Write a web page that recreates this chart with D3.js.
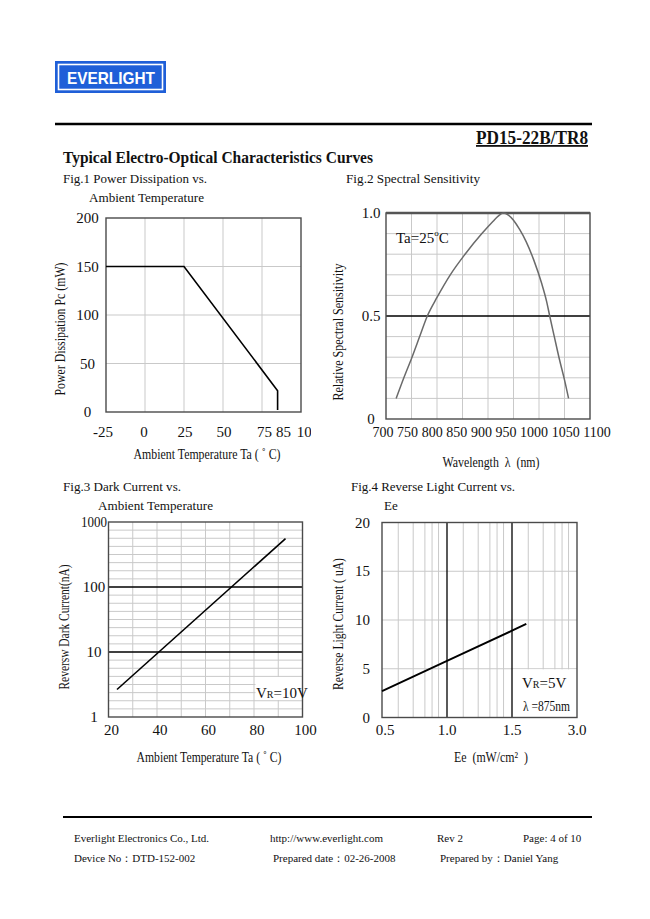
<!DOCTYPE html>
<html><head><meta charset="utf-8">
<script src="https://cdn.jsdelivr.net/npm/d3@7"></script>
<style>
body{margin:0;background:#fff}
svg{display:block}
text{font-family:"Liberation Serif","Times New Roman",serif;fill:#111;white-space:pre}
</style>
</head><body><svg id="page" width="650" height="919"></svg>
<script>
// ---------------- DATA ----------------
// Fig.1 Power dissipation vs ambient temperature
const fig1Temp  = [-25, 25, 85, 85];
const fig1Power = [150, 150, 22, 2];
const fig1XTicks = [-25, 0, 25, 50, 75, 85, 100];
const fig1YTicks = [0, 50, 100, 150, 200];
const fig1XGrid = [0, 25, 50, 75];
const fig1YGrid = [50, 100, 150];

// Fig.2 Spectral sensitivity
const fig2Wave = [720, 735, 751, 766, 781, 800, 826, 855, 888, 910, 920, 930, 940, 950, 962, 975, 990, 1005, 1015, 1021, 1030, 1040, 1050, 1058];
const fig2Sens = [0.10, 0.20, 0.30, 0.40, 0.50, 0.59, 0.70, 0.80, 0.90, 0.96, 0.985, 1.00, 0.99, 0.965, 0.92, 0.86, 0.77, 0.66, 0.57, 0.50, 0.40, 0.29, 0.19, 0.10];
const fig2XTicks = [700, 750, 800, 850, 900, 950, 1000, 1050, 1100];
const fig2YTicks = [0, 0.5, 1.0];
const fig2YTickLabels = ["0", "0.5", "1.0"];
const fig2XGrid = [750, 800, 850, 900, 950, 1000, 1050];
const fig2YGrid = [0.1, 0.2, 0.3, 0.4, 0.6, 0.7, 0.8, 0.9];
const fig2YMajor = [0.5];

// Fig.3 Dark current vs ambient temperature
const fig3Temp    = [23.5, 93];
const fig3Current = [2.65, 555];
const fig3XTicks = [20, 40, 60, 80, 100];
const fig3YTicks = [1, 10, 100, 1000];
const fig3XGrid = [30, 40, 50, 60, 70, 80, 90];
const fig3YMajor = [10, 100];

// Fig.4 Reverse light current vs Ee
const fig4Ee = [0.5, 1.0, 1.5, 1.83];
const fig4IL = [2.7, 5.8, 8.9, 9.6];
const fig4XTicks = [0.5, 1.0, 1.5, 3.0];
const fig4XTickLabels = ["0.5", "1.0", "1.5", "3.0"];
const fig4YTicks = [0, 5, 10, 15, 20];
const fig4XMajor = [1.0, 1.5];
const fig4XGrid = [0.625, 0.74, 0.83, 0.885, 0.935, 1.125, 1.24, 1.33, 1.385, 1.435, 1.875, 2.22, 2.49, 2.655, 2.805];
const fig4YGrid = [5, 10, 15];

// ---------------- HELPERS ----------------
const svg = d3.select('#page');
const GRID = '#c9c9c9', FRAME = '#4a4a4a';

function txt(g, s, x, y, o = {}) {
  const t = g.append('text').attr('x', x).attr('y', y).attr('font-size', o.size || 13).text(s);
  if (o.anchor) t.attr('text-anchor', o.anchor);
  if (o.weight) t.attr('font-weight', o.weight);
  if (o.len) t.attr('textLength', o.len).attr('lengthAdjust', 'spacingAndGlyphs');
  if (o.baseline) t.attr('dominant-baseline', o.baseline);
  return t;
}
function vgrid(g, vals, x, y0, y1, color, w) {
  g.selectAll(null).data(vals).join('line')
    .attr('x1', d => x(d)).attr('x2', d => x(d)).attr('y1', y0).attr('y2', y1)
    .attr('stroke', color).attr('stroke-width', w);
}
function hgrid(g, vals, y, x0, x1, color, w) {
  g.selectAll(null).data(vals).join('line')
    .attr('y1', d => y(d)).attr('y2', d => y(d)).attr('x1', x0).attr('x2', x1)
    .attr('stroke', color).attr('stroke-width', w);
}
function frame(g, x0, y0, x1, y1) {
  g.append('rect').attr('x', x0).attr('y', y0).attr('width', x1 - x0).attr('height', y1 - y0)
    .attr('fill', 'none').attr('stroke', FRAME).attr('stroke-width', 1.4);
}
function rotTitle(g, s, cx, cy, size, len) {
  const t = g.append('text').attr('transform', `translate(${cx},${cy}) rotate(-90)`)
    .attr('text-anchor', 'middle').attr('font-size', size).text(s);
  if (len) t.attr('textLength', len).attr('lengthAdjust', 'spacingAndGlyphs');
  return t;
}

// ---------------- HEADER ----------------
const head = svg.append('g');
head.append('rect').attr('x', 55).attr('y', 61).attr('width', 111).attr('height', 32).attr('fill', '#1f5fd8');
head.append('rect').attr('x', 58.5).attr('y', 64.5).attr('width', 104).attr('height', 25)
  .attr('fill', 'none').attr('stroke', '#fff').attr('stroke-width', 1.6);
head.append('text').attr('x', 67).attr('y', 84).attr('font-size', 17).attr('font-weight', 'bold')
  .style('font-family', '"Liberation Sans",Arial,sans-serif').style('fill', '#fff')
  .attr('textLength', 88).attr('lengthAdjust', 'spacingAndGlyphs').text('EVERLIGHT');

head.append('line').attr('x1', 55).attr('x2', 592).attr('y1', 124).attr('y2', 124).attr('stroke', '#000').attr('stroke-width', 2.5);
txt(head, 'PD15-22B/TR8', 588, 144, { size: 18, weight: 'bold', anchor: 'end', len: 112 }).attr('text-decoration', 'underline');
txt(head, 'Typical Electro-Optical Characteristics Curves', 63, 163, { size: 16, weight: 'bold', len: 310 });

// ================= FIG 1 =================
(function () {
  const g = svg.append('g');
  const X0 = 106, X1 = 301, Y0 = 218, Y1 = 412;
  const x = d3.scaleLinear().domain([-25, 100]).range([X0, X1]);
  const y = d3.scaleLinear().domain([0, 200]).range([Y1, Y0]);
  txt(g, 'Fig.1 Power Dissipation vs.', 63, 183, { size: 13, len: 144 });
  txt(g, 'Ambient Temperature', 89, 202, { size: 13, len: 115 });
  vgrid(g, fig1XGrid, x, Y0, Y1, GRID, 1);
  hgrid(g, fig1YGrid, y, X0, X1, GRID, 1);
  frame(g, X0, Y0, X1, Y1);
  g.append('path').datum(d3.zip(fig1Temp, fig1Power))
    .attr('d', d3.line().x(d => x(d[0])).y(d => y(d[1])))
    .attr('fill', 'none').attr('stroke', '#000').attr('stroke-width', 1.6);
  fig1YTicks.forEach(v => txt(g, String(v), 87.5, y(v), { size: 15, anchor: 'middle', baseline: 'central' }));
  const nudge = { '-25': -3, '0': -1, '25': 1, '50': 1, '75': 2.5, '85': 6, '100': 7 };
  g.append('clipPath').attr('id', 'c1').append('rect').attr('x', 0).attr('y', 400).attr('width', 311).attr('height', 50);
  const tl = g.append('g').attr('clip-path', 'url(#c1)');
  fig1XTicks.forEach(v => txt(tl, String(v), x(v) + nudge[String(v)], 437, { size: 15, anchor: 'middle' }));
  txt(g, 'Ambient Temperature Ta (\u00a0˚\u00a0C)', 207, 459, { size: 14, anchor: 'middle', len: 147 });
  rotTitle(g, 'Power Dissipation Pc (mW)', 65, 329, 14, 133);
})();

// ================= FIG 2 =================
(function () {
  const g = svg.append('g');
  const X0 = 386, X1 = 590, Y0 = 213, Y1 = 419;
  const x = d3.scaleLinear().domain([700, 1100]).range([X0, X1]);
  const y = d3.scaleLinear().domain([0, 1]).range([Y1, Y0]);
  txt(g, 'Fig.2 Spectral Sensitivity', 346, 183, { size: 13, len: 134 });
  vgrid(g, fig2XGrid, x, Y0, Y1, GRID, 1);
  hgrid(g, fig2YGrid, y, X0, X1, GRID, 1);
  hgrid(g, fig2YMajor, y, X0, X1, '#000', 1.3);
  frame(g, X0, Y0, X1, Y1);
  g.append('line').attr('x1', X0).attr('x2', X1).attr('y1', Y0).attr('y2', Y0).attr('stroke', '#555').attr('stroke-width', 2.4);
  g.append('path').datum(d3.zip(fig2Wave, fig2Sens))
    .attr('d', d3.line().curve(d3.curveMonotoneX).x(d => x(d[0])).y(d => y(d[1])))
    .attr('fill', 'none').attr('stroke', '#6a6a6a').attr('stroke-width', 1.5);
  fig2YTicks.forEach((v, i) => txt(g, fig2YTickLabels[i], 371, y(v), { size: 15, anchor: 'middle', baseline: 'central' }));
  // x tick labels packed as in the reference
  let cursor = 372.5;
  fig2XTicks.forEach(v => {
    const t = txt(g, String(v), cursor, 437, { size: 14 });
    cursor += t.node().getComputedTextLength() + 3.6;
  });
  const ta = g.append('text').attr('x', 396).attr('y', 243).attr('font-size', 15);
  ta.append('tspan').text('Ta=25');
  ta.append('tspan').attr('font-size', 9).attr('dy', -7).text('o');
  ta.append('tspan').attr('dy', 7).text('C');
  txt(g, 'Wavelength  λ  (nm)', 491, 467, { size: 14, anchor: 'middle', len: 97 });
  rotTitle(g, 'Relative Spectral Sensitivity', 343, 332, 14, 137);
})();

// ================= FIG 3 =================
(function () {
  const g = svg.append('g');
  const X0 = 108.5, X1 = 302.5, Y0 = 522, Y1 = 717;
  const x = d3.scaleLinear().domain([20, 100]).range([X0, X1]);
  const y = d3.scaleLog().domain([1, 1000]).range([Y1, Y0]);
  txt(g, 'Fig.3 Dark Current vs.', 63, 491, { size: 13, len: 118 });
  txt(g, 'Ambient Temperature', 98, 510, { size: 13, len: 115 });
  const minor = [];
  [1, 10, 100].forEach(d => { for (let i = 1; i <= 7; i++) minor.push(d * Math.pow(10, i / 8)); });
  vgrid(g, fig3XGrid, x, Y0, Y1, GRID, 1);
  hgrid(g, minor, y, X0, X1, GRID, 1);
  g.append('rect').attr('x', x(80) + 1.5).attr('y', Y1 - 40).attr('width', X1 - x(80) - 1.5).attr('height', 23).attr('fill', '#fff');
  hgrid(g, fig3YMajor, y, X0, X1, '#000', 1.3);
  frame(g, X0, Y0, X1, Y1);
  g.append('path').datum(d3.zip(fig3Temp, fig3Current))
    .attr('d', d3.line().x(d => x(d[0])).y(d => y(d[1])))
    .attr('fill', 'none').attr('stroke', '#000').attr('stroke-width', 1.6);
  fig3YTicks.forEach(v => txt(g, String(v), 94, y(v), { size: 15, anchor: 'middle', baseline: 'central', len: v === 1000 ? 26 : null }));
  fig3XTicks.forEach(v => txt(g, String(v), x(v) + 3, 735, { size: 15, anchor: 'middle' }));
  const vr = g.append('text').attr('x', 256).attr('y', 698).attr('font-size', 15);
  vr.append('tspan').text('V');
  vr.append('tspan').attr('font-size', 10).text('R');
  vr.append('tspan').text('=10V');
  txt(g, 'Ambient Temperature Ta (\u00a0˚\u00a0C)', 209, 762, { size: 14, anchor: 'middle', len: 145 });
  rotTitle(g, 'Reversw Dark Current(nA)', 69, 627, 14, 125);
})();

// ================= FIG 4 =================
(function () {
  const g = svg.append('g');
  const X0 = 382, X1 = 577, Y0 = 522.5, Y1 = 717.5;
  const x = d3.scaleLinear().domain([0.5, 1.0, 1.5, 3.0]).range([X0, X0 + (X1 - X0) / 3, X0 + 2 * (X1 - X0) / 3, X1]);
  const y = d3.scaleLinear().domain([0, 20]).range([Y1, Y0]);
  txt(g, 'Fig.4 Reverse Light Current vs.', 351, 491, { size: 13, len: 164 });
  txt(g, 'Ee', 384, 510, { size: 13 });
  vgrid(g, fig4XGrid, x, Y0, Y1, GRID, 1);
  hgrid(g, fig4YGrid, y, X0, X1, GRID, 1);
  g.append('rect').attr('x', x(1.5) + 1).attr('y', y(5) + 0.6).attr('width', X1 - x(1.5) - 1).attr('height', Y1 - y(5) - 0.6).attr('fill', '#fff');
  vgrid(g, fig4XMajor, x, Y0, Y1, '#000', 1.3);
  frame(g, X0, Y0, X1, Y1);
  g.append('path').datum(d3.zip(fig4Ee, fig4IL))
    .attr('d', d3.line().x(d => x(d[0])).y(d => y(d[1])))
    .attr('fill', 'none').attr('stroke', '#000').attr('stroke-width', 1.9);
  fig4YTicks.forEach(v => txt(g, String(v), 370, y(v), { size: 15, anchor: 'end', baseline: 'central' }));
  fig4XTicks.forEach((v, i) => txt(g, fig4XTickLabels[i], x(v) + (i === 0 ? 3 : 0), 735, { size: 15, anchor: 'middle' }));
  const vr = g.append('text').attr('x', 522).attr('y', 688).attr('font-size', 15);
  vr.append('tspan').text('V');
  vr.append('tspan').attr('font-size', 10).text('R');
  vr.append('tspan').text('=5V');
  txt(g, 'λ =875nm', 523, 711, { size: 14, len: 47 });
  txt(g, 'Ee  (mW/cm²  )', 491, 762, { size: 14, anchor: 'middle', len: 74 });
  rotTitle(g, 'Reverse Light Current ( uA)', 343, 624, 14, 132);
})();

// ---------------- FOOTER ----------------
const foot = svg.append('g');
foot.append('line').attr('x1', 63).attr('x2', 592).attr('y1', 817).attr('y2', 817).attr('stroke', '#000').attr('stroke-width', 2.2);
txt(foot, 'Everlight Electronics Co., Ltd.', 74, 842, { size: 11 });
txt(foot, 'http://www.everlight.com', 270, 842, { size: 11 });
txt(foot, 'Rev 2', 437, 842, { size: 11 });
txt(foot, 'Page: 4 of 10', 523, 842, { size: 11 });
txt(foot, 'Device No：DTD-152-002', 74, 862, { size: 11 });
txt(foot, 'Prepared date：02-26-2008', 273, 862, { size: 11 });
txt(foot, 'Prepared by：Daniel Yang', 440, 862, { size: 11 });
</script>
</body></html>
